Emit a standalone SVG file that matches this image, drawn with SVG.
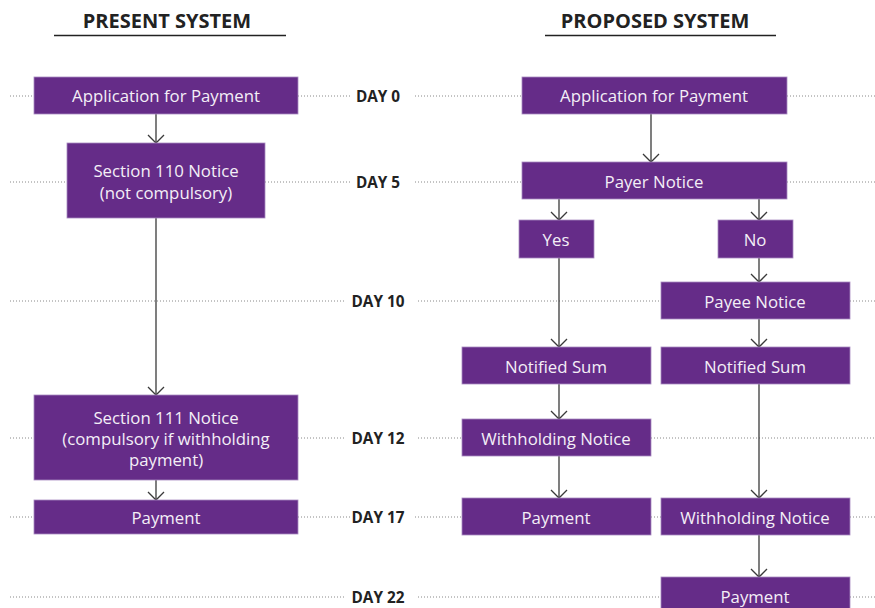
<svg xmlns="http://www.w3.org/2000/svg" width="875" height="608" viewBox="0 0 875 608">
<defs>
<marker id="ah" viewBox="0 0 12 18" refX="11" refY="9" markerWidth="12" markerHeight="18" markerUnits="userSpaceOnUse" orient="auto">
<path d="M3,1 L11,9 L3,17" fill="none" stroke="#3a3a3a" stroke-width="1.3"/>
</marker>
<style>
.box{fill:#652c88;stroke:#a98bc0;stroke-width:0.8}
.bt{font-family:"Open Sans","Noto Sans",sans-serif;font-size:16.8px;fill:#f4eff7;text-anchor:middle;dominant-baseline:central}
.day{font-family:"Open Sans","Noto Sans",sans-serif;font-size:15.3px;font-weight:bold;fill:#222;text-anchor:middle;dominant-baseline:central}
.title{font-family:"Open Sans","Noto Sans",sans-serif;font-size:20px;font-weight:bold;fill:#222;text-anchor:middle}
.dot{stroke:#888;stroke-width:1;stroke-dasharray:1 2;fill:none}
.conn{stroke:#3a3a3a;stroke-width:1.3;fill:none;marker-end:url(#ah)}
</style>
</defs>
<rect width="875" height="608" fill="#ffffff"/>
<g id="titles">
<text class="title" x="167" y="28">PRESENT SYSTEM</text>
<line x1="54" y1="35.5" x2="286" y2="35.5" stroke="#222" stroke-width="1.3"/>
<text class="title" x="655" y="28">PROPOSED SYSTEM</text>
<line x1="545" y1="35.5" x2="776" y2="35.5" stroke="#222" stroke-width="1.3"/>
</g>
<g id="timeline">
<path class="dot" d="M10,96H34 M298,96H350 M415,96H522 M787,96H875"/>
<path class="dot" d="M10,182H67 M265,182H350 M415,182H522 M787,182H875"/>
<path class="dot" d="M10,301H345 M418,301H661 M850,301H875"/>
<path class="dot" d="M10,438H34 M298,438H345 M418,438H462 M651,438H875"/>
<path class="dot" d="M10,517H34 M298,517H352 M415,517H462 M651,517H661 M850,517H875"/>
<path class="dot" d="M10,597H345 M418,597H661 M850,597H875"/>
<text class="day" x="378" y="95.5">DAY 0</text>
<text class="day" x="378" y="181.5">DAY 5</text>
<text class="day" x="378" y="300.5">DAY 10</text>
<text class="day" x="378" y="437.5">DAY 12</text>
<text class="day" x="378" y="516.5">DAY 17</text>
<text class="day" x="378" y="596.5">DAY 22</text>
</g>
<g id="connectors">
<path class="conn" d="M156,114V143"/>
<path class="conn" d="M156,218V395"/>
<path class="conn" d="M156,480V500"/>
<path class="conn" d="M651,114V162"/>
<path class="conn" d="M559,199V220"/>
<path class="conn" d="M759,199V220"/>
<path class="conn" d="M559,258V347"/>
<path class="conn" d="M759,258V282"/>
<path class="conn" d="M759,319V347"/>
<path class="conn" d="M559,384V419"/>
<path class="conn" d="M559,456V498"/>
<path class="conn" d="M759,384V498"/>
<path class="conn" d="M759,535V577"/>
</g>
<g id="p-app"><rect class="box" x="34" y="77" width="264" height="37"/><text class="bt" x="166" y="95.5">Application for Payment</text></g>
<g id="p-s110"><rect class="box" x="67" y="143" width="198" height="75"/><text class="bt" x="166" y="170.5">Section 110 Notice</text><text class="bt" x="166" y="192.5">(not compulsory)</text></g>
<g id="p-s111"><rect class="box" x="34" y="395" width="264" height="85"/><text class="bt" x="166" y="417.5">Section 111 Notice</text><text class="bt" x="166" y="438.5">(compulsory if withholding</text><text class="bt" x="166" y="459.5">payment)</text></g>
<g id="p-pay"><rect class="box" x="34" y="500" width="264" height="34"/><text class="bt" x="166" y="517">Payment</text></g>
<g id="n-app"><rect class="box" x="522" y="77" width="265" height="37"/><text class="bt" x="654" y="95.5">Application for Payment</text></g>
<g id="n-payer"><rect class="box" x="522" y="162" width="265" height="37"/><text class="bt" x="654" y="181.5">Payer Notice</text></g>
<g id="n-yes"><rect class="box" x="519" y="220" width="75" height="38"/><text class="bt" x="556" y="239.5">Yes</text></g>
<g id="n-no"><rect class="box" x="718" y="220" width="75" height="38"/><text class="bt" x="755" y="239.5">No</text></g>
<g id="n-payee"><rect class="box" x="661" y="282" width="189" height="37"/><text class="bt" x="755" y="301.5">Payee Notice</text></g>
<g id="n-sum1"><rect class="box" x="462" y="347" width="189" height="37"/><text class="bt" x="556" y="366.5">Notified Sum</text></g>
<g id="n-sum2"><rect class="box" x="661" y="347" width="189" height="37"/><text class="bt" x="755" y="366.5">Notified Sum</text></g>
<g id="n-with1"><rect class="box" x="462" y="419" width="189" height="37"/><text class="bt" x="556" y="438.5">Withholding Notice</text></g>
<g id="n-pay1"><rect class="box" x="462" y="498" width="189" height="37"/><text class="bt" x="556" y="517.5">Payment</text></g>
<g id="n-with2"><rect class="box" x="661" y="498" width="189" height="37"/><text class="bt" x="755" y="517.5">Withholding Notice</text></g>
<g id="n-pay2"><rect class="box" x="661" y="577" width="189" height="37"/><text class="bt" x="755" y="596.5">Payment</text></g>
</svg>
